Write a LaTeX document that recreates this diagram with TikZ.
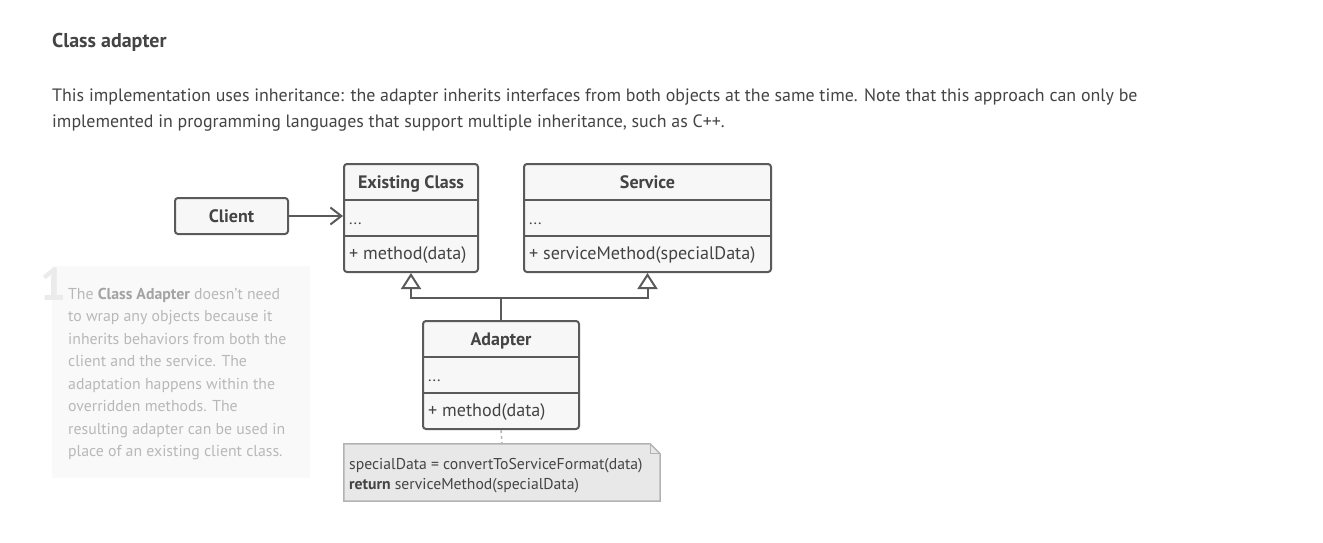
\documentclass[tikz,border=0pt]{standalone}
\usepackage{fontspec}
\setmainfont{PT Sans}
\usetikzlibrary{arrows.meta,calc}
\definecolor{ink}{HTML}{444444}
\definecolor{stroke}{HTML}{5A5A5A}
\definecolor{boxfill}{HTML}{F7F7F7}
\definecolor{notefill}{HTML}{E8E8E8}
\definecolor{notestroke}{HTML}{B3B3B3}
\definecolor{panelfill}{HTML}{F9F9F9}
\definecolor{paneltext}{HTML}{B8B8B8}
\definecolor{panelbold}{HTML}{A3A3A3}
\begin{document}
\begin{tikzpicture}[x=1pt,y=-1pt,
  umlbox/.style={draw=stroke, fill=boxfill, line width=2pt, rounded corners=3pt, inner sep=0pt},
  sepline/.style={draw=stroke, line width=2pt},
  title/.style={font=\fontsize{18}{20}\selectfont\bfseries, text=ink, inner sep=0pt, anchor=base},
  member/.style={font=\fontsize{18.1}{20}\selectfont, text=ink, inner sep=0pt, anchor=base west},
  dotstxt/.style={font=\fontsize{16}{18}\selectfont, text=ink, inner sep=0pt, anchor=base west},
  bodytxt/.style={font=\fontsize{17.9}{20}\selectfont, text=ink, inner sep=0pt, anchor=base west},
  paneltxt/.style={font=\fontsize{15.8}{18}\selectfont, text=paneltext, inner sep=0pt, anchor=base west},
  notetxt/.style={font=\fontsize{15.7}{18}\selectfont, text=ink, inner sep=0pt, anchor=base west},
  assoc/.style={draw=stroke, line width=2pt, -{Straight Barb[length=11pt, width=17pt, line width=2pt]}},
  inh/.style={draw=stroke, line width=2pt, -{Triangle[open, length=16pt, width=20pt, line width=2pt]}},
  dots/.style={draw=notestroke, line width=1.5pt, dash pattern=on 3pt off 3pt}
]
\useasboundingbox (0,0) rectangle (1323,543);
\fill[white] (0,0) rectangle (1323,543);

% heading and paragraph
\node[anchor=base west, inner sep=0pt, font=\fontsize{20}{22}\selectfont\bfseries, text=ink] (head) at (52,48) {Class adapter};
\node[bodytxt] (par1) at (52,101) {This implementation uses inheritance: the adapter inherits interfaces from both objects at the same time. Note that this approach can only be};
\node[bodytxt] (par2) at (52,128) {implemented in programming languages that support multiple inheritance, such as C++.};

% side panel
\fill[panelfill] (52,266) rectangle (310,478);
\node[anchor=base west, inner sep=0pt, font=\fontsize{46}{48}\selectfont\bfseries, text=black!8] (num) at (40,300) {1};
\foreach \t [count=\i] in {{The {\color{panelbold}\bfseries Class Adapter} doesn’t need},
  {to wrap any objects because it},
  {inherits behaviors from both the},
  {client and the service. The},
  {adaptation happens within the},
  {overridden methods. The},
  {resulting adapter can be used in},
  {place of an existing client class.}}
  \node[paneltxt] (pl\i) at (68,{299+22.5*(\i-1)}) {\t};

% Client
\node[umlbox, minimum width=113pt, minimum height=36pt] (client) at (231.5,216) {};
\node[title] (clientlbl) at (231.5,222) {Client};

% Existing Class
\node[umlbox, minimum width=134pt, minimum height=108pt] (ex) at (411,218) {};
\draw[sepline] (344,200) -- (478,200);
\draw[sepline] (344,236) -- (478,236);
\node[title] (exlbl) at (411,188) {Existing Class};
\node[dotstxt] (exdots) at (349,224) {...};
\node[member] (exm) at (349,259) {+ method(data)};

% Service
\node[umlbox, minimum width=247pt, minimum height=108pt] (sv) at (647.5,218) {};
\draw[sepline] (524,200) -- (771,200);
\draw[sepline] (524,236) -- (771,236);
\node[title] (svlbl) at (647.5,188) {Service};
\node[dotstxt] (svdots) at (529,224) {...};
\node[member] (svm) at (529,259) {+ serviceMethod(specialData)};

% Adapter
\node[umlbox, minimum width=156pt, minimum height=108pt] (ad) at (501,375) {};
\draw[sepline] (423,357) -- (579,357);
\draw[sepline] (423,393) -- (579,393);
\node[title] (adlbl) at (501,345) {Adapter};
\node[dotstxt] (addots) at (428,381) {...};
\node[member] (adm) at (428,416) {+ method(data)};

% Note
\node[draw=none, minimum width=316pt, minimum height=57pt, inner sep=0pt] (note) at (502,472.5) {};
\path[draw=notestroke, fill=notefill, line width=1.5pt]
  (note.north west) -- ($(note.north east)+(-10,0)$) -- ($(note.north east)+(0,10)$) -- (note.south east) -- (note.south west) -- cycle;
\draw[notestroke, line width=1.2pt] ($(note.north east)+(-10,0)$) -- ($(note.north east)+(-10,10)$) -- ($(note.north east)+(0,10)$);
\node[notetxt] (n1) at (349,469) {specialData = convertToServiceFormat(data)};
\node[notetxt] (n2) at (349,489) {\textbf{return} serviceMethod(specialData)};

% connectors
\draw[assoc] (client.east) -- (client.east -| ex.west);
\coordinate (junction) at (501,298);
\draw[sepline] (ad.north) -- (junction);
\draw[inh] (junction) -| (ex.south);
\draw[inh] (junction) -| (sv.south);
\draw[dots] (ad.south) -- (note.north);
\end{tikzpicture}
\end{document}
